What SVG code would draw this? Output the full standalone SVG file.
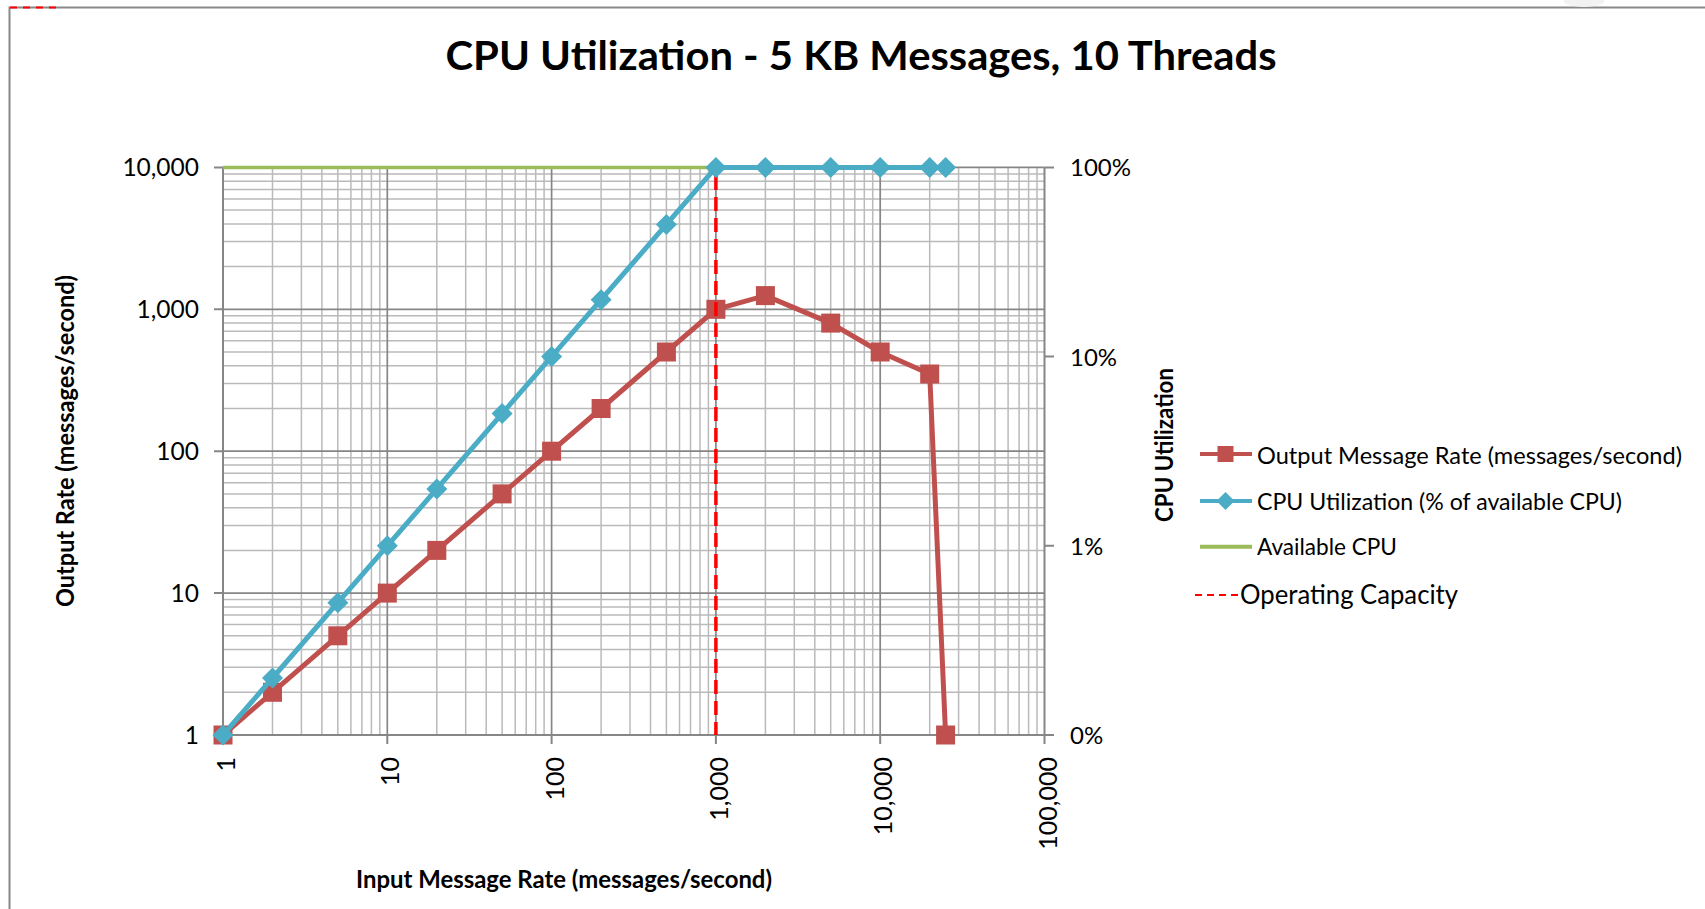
<svg xmlns="http://www.w3.org/2000/svg" width="1705" height="909" viewBox="0 0 1705 909">
  <style>
    .t { font-family: Lato, "Open Sans", "Liberation Sans", sans-serif; fill: #000; }
    .b { font-weight: 700; }
    .minor { stroke: #bababa; stroke-width: 1.5; fill: none; }
    .major { stroke: #868686; stroke-width: 1.7; fill: none; }
    .axis { stroke: #868686; stroke-width: 2; fill: none; }
    .out { stroke: #c0504d; stroke-width: 5; fill: none; stroke-linejoin: round; }
    .cpu { stroke: #4bacc6; stroke-width: 5; fill: none; stroke-linejoin: round; }
    .avail { stroke: #9bbb59; stroke-width: 3.5; fill: none; }
    .cap { stroke: #ff0000; stroke-width: 3.5; fill: none; stroke-dasharray: 14 7; }
  </style>
  <defs>
    <rect id="sq" x="-9.5" y="-9.5" width="19" height="19" fill="#c0504d"/>
    <path id="dia" d="M0 -10.5 L10.5 0 L0 10.5 L-10.5 0 Z" fill="#4bacc6"/>
  </defs>

  <rect width="1705" height="909" fill="#fff"/>

  <!-- chart frame -->
  <g id="frame">
    <path d="M9.5 909 V7.5 H1705" stroke="#888" stroke-width="2" fill="none"/>
    <path d="M10 7.5 H56" stroke="#ff0000" stroke-width="2" stroke-dasharray="7 6" fill="none"/>
    <ellipse cx="1584" cy="1" rx="20" ry="6" fill="#f2f2f2"/>
  </g>

  <!-- title -->
  <text class="t b" x="861" y="70" font-size="40" text-anchor="middle" textLength="831" lengthAdjust="spacingAndGlyphs">CPU Utilization - 5 KB Messages, 10 Threads</text>

  <!-- plot grid -->
  <g id="grid">
    <path class="minor" d="
      M272.5 167.4V735 M301.4 167.4V735 M321.9 167.4V735 M337.8 167.4V735 M350.9 167.4V735 M361.9 167.4V735 M371.4 167.4V735 M379.8 167.4V735
      M436.8 167.4V735 M465.7 167.4V735 M486.2 167.4V735 M502.1 167.4V735 M515.2 167.4V735 M526.2 167.4V735 M535.7 167.4V735 M544.1 167.4V735
      M601.1 167.4V735 M630.0 167.4V735 M650.5 167.4V735 M666.4 167.4V735 M679.5 167.4V735 M690.5 167.4V735 M700.0 167.4V735 M708.4 167.4V735
      M765.4 167.4V735 M794.3 167.4V735 M814.8 167.4V735 M830.7 167.4V735 M843.8 167.4V735 M854.8 167.4V735 M864.3 167.4V735 M872.7 167.4V735
      M929.7 167.4V735 M958.6 167.4V735 M979.1 167.4V735 M995.0 167.4V735 M1008.1 167.4V735 M1019.1 167.4V735 M1028.6 167.4V735 M1037.0 167.4V735
      M223 692.3H1044.5 M223 667.3H1044.5 M223 649.6H1044.5 M223 635.8H1044.5 M223 624.6H1044.5 M223 615.1H1044.5 M223 606.9H1044.5 M223 599.6H1044.5
      M223 550.4H1044.5 M223 525.4H1044.5 M223 507.7H1044.5 M223 493.9H1044.5 M223 482.7H1044.5 M223 473.2H1044.5 M223 465.0H1044.5 M223 457.7H1044.5
      M223 408.5H1044.5 M223 383.5H1044.5 M223 365.8H1044.5 M223 352.0H1044.5 M223 340.8H1044.5 M223 331.3H1044.5 M223 323.1H1044.5 M223 315.8H1044.5
      M223 266.6H1044.5 M223 241.6H1044.5 M223 223.9H1044.5 M223 210.1H1044.5 M223 198.9H1044.5 M223 189.4H1044.5 M223 181.2H1044.5 M223 173.9H1044.5"/>
    <path class="major" d="
      M387.3 167.4V735 M551.6 167.4V735 M715.9 167.4V735 M880.2 167.4V735
      M223 593.1H1044.5 M223 451.2H1044.5 M223 309.3H1044.5 M223 167.4H1044.5"/>
  </g>

  <!-- axes and tick marks -->
  <g id="axes">
    <path class="axis" d="M223 167.4V735H1044.5V167.4"/>
    <path class="axis" d="M214 167.4H223 M214 309.3H223 M214 451.2H223 M214 593.1H223 M214 735H223"/>
    <path class="axis" d="M1044.5 167.4H1054 M1044.5 356.6H1054 M1044.5 545.8H1054 M1044.5 735H1054"/>
    <path class="axis" d="M223 735V744 M387.3 735V744 M551.6 735V744 M715.9 735V744 M880.2 735V744 M1044.5 735V744"/>
  </g>

  <!-- left axis labels -->
  <g id="y-left-labels" class="t" font-size="24.5" text-anchor="end">
    <text x="199" y="176.3">10,000</text>
    <text x="199" y="318.2">1,000</text>
    <text x="199" y="460.1">100</text>
    <text x="199" y="602">10</text>
    <text x="199" y="743.9">1</text>
  </g>

  <!-- right axis labels -->
  <g id="y-right-labels" class="t" font-size="24">
    <text x="1070" y="176.3">100%</text>
    <text x="1070" y="365.5">10%</text>
    <text x="1070" y="554.7">1%</text>
    <text x="1070" y="743.9">0%</text>
  </g>

  <!-- bottom axis labels (rotated) -->
  <g id="x-labels" class="t" font-size="25" text-anchor="end">
    <text transform="translate(235,757) rotate(-90)">1</text>
    <text transform="translate(399.3,757) rotate(-90)">10</text>
    <text transform="translate(563.6,757) rotate(-90)">100</text>
    <text transform="translate(727.9,757) rotate(-90)">1,000</text>
    <text transform="translate(892.2,757) rotate(-90)">10,000</text>
    <text transform="translate(1056.5,757) rotate(-90)">100,000</text>
  </g>

  <!-- axis titles -->
  <text class="t b" x="564" y="888" font-size="25" text-anchor="middle" textLength="416" lengthAdjust="spacingAndGlyphs">Input Message Rate (messages/second)</text>
  <text class="t b" transform="translate(74,441) rotate(-90)" font-size="25" text-anchor="middle" textLength="332" lengthAdjust="spacingAndGlyphs">Output Rate (messages/second)</text>
  <text class="t b" transform="translate(1172.5,445) rotate(-90)" font-size="25" text-anchor="middle" textLength="154" lengthAdjust="spacingAndGlyphs">CPU Utilization</text>

  <!-- data series -->
  <g id="series">
    <g id="available-cpu">
      <path class="avail" d="M223 167.4H945.6"/>
    </g>
    <g id="output-rate">
      <path class="out" d="M223 735 L272.5 692.3 L337.8 635.8 L387.3 593.1 L436.8 550.4 L502.1 493.9 L551.6 451.2 L601.1 408.5 L666.4 352.0 L715.9 309.3 L765.4 295.6 L830.7 323.1 L880.2 352.0 L929.7 374.0 L945.6 735"/>
      <use href="#sq" x="223" y="735"/>
      <use href="#sq" x="272.5" y="692.3"/>
      <use href="#sq" x="337.8" y="635.8"/>
      <use href="#sq" x="387.3" y="593.1"/>
      <use href="#sq" x="436.8" y="550.4"/>
      <use href="#sq" x="502.1" y="493.9"/>
      <use href="#sq" x="551.6" y="451.2"/>
      <use href="#sq" x="601.1" y="408.5"/>
      <use href="#sq" x="666.4" y="352.0"/>
      <use href="#sq" x="715.9" y="309.3"/>
      <use href="#sq" x="765.4" y="295.6"/>
      <use href="#sq" x="830.7" y="323.1"/>
      <use href="#sq" x="880.2" y="352.0"/>
      <use href="#sq" x="929.7" y="374.0"/>
      <use href="#sq" x="945.6" y="735"/>
    </g>
    <g id="operating-capacity">
      <path class="cap" d="M715.9 176V735"/>
    </g>
    <g id="cpu-utilization">
      <path class="cpu" d="M223 735 L272.5 678.0 L337.8 602.7 L387.3 545.8 L436.8 488.9 L502.1 413.6 L551.6 356.6 L601.1 299.7 L666.4 224.4 L715.9 167.4 L945.6 167.4"/>
      <use href="#dia" x="223" y="735"/>
      <use href="#dia" x="272.5" y="678.0"/>
      <use href="#dia" x="337.8" y="602.7"/>
      <use href="#dia" x="387.3" y="545.8"/>
      <use href="#dia" x="436.8" y="488.9"/>
      <use href="#dia" x="502.1" y="413.6"/>
      <use href="#dia" x="551.6" y="356.6"/>
      <use href="#dia" x="601.1" y="299.7"/>
      <use href="#dia" x="666.4" y="224.4"/>
      <use href="#dia" x="715.9" y="167.4"/>
      <use href="#dia" x="765.4" y="167.4"/>
      <use href="#dia" x="830.7" y="167.4"/>
      <use href="#dia" x="880.2" y="167.4"/>
      <use href="#dia" x="929.7" y="167.4"/>
      <use href="#dia" x="945.6" y="167.4"/>
    </g>
  </g>

  <!-- legend -->
  <g id="legend">
    <g id="legend-output">
      <path d="M1200 454H1252" stroke="#c0504d" stroke-width="4"/>
      <rect x="1217.5" y="446" width="16" height="16" fill="#c0504d"/>
      <text class="t" x="1257" y="464" font-size="24" textLength="425" lengthAdjust="spacingAndGlyphs">Output Message Rate (messages/second)</text>
    </g>
    <g id="legend-cpu">
      <path d="M1200 501H1252" stroke="#4bacc6" stroke-width="4"/>
      <path d="M1225.5 492 L1234.5 501 L1225.5 510 L1216.5 501 Z" fill="#4bacc6"/>
      <text class="t" x="1257" y="509.5" font-size="24" textLength="365" lengthAdjust="spacingAndGlyphs">CPU Utilization (% of available CPU)</text>
    </g>
    <g id="legend-available">
      <path d="M1200 546.7H1252" stroke="#9bbb59" stroke-width="4"/>
      <text class="t" x="1257" y="555" font-size="24" textLength="140" lengthAdjust="spacingAndGlyphs">Available CPU</text>
    </g>
    <g id="legend-capacity">
      <path d="M1195 595H1240" stroke="#ff0000" stroke-width="2" stroke-dasharray="7 5"/>
      <text class="t" x="1240" y="603.5" font-size="26" textLength="218" lengthAdjust="spacingAndGlyphs">Operating Capacity</text>
    </g>
  </g>
</svg>
